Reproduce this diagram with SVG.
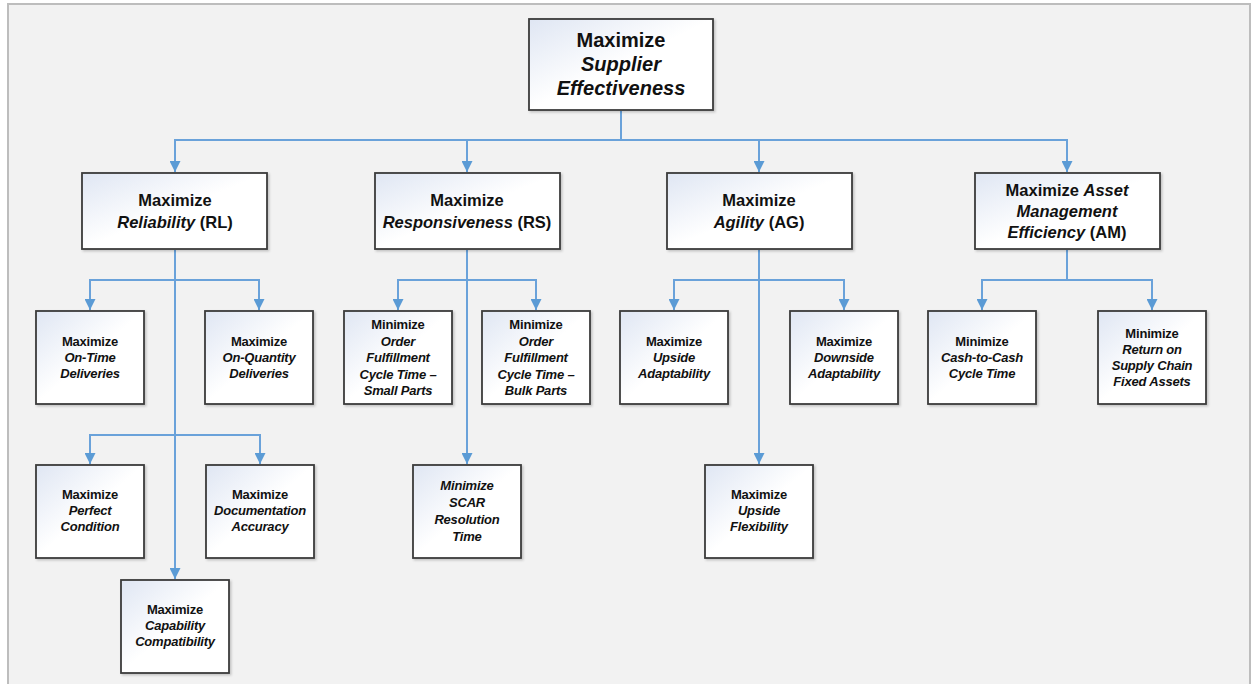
<svg xmlns="http://www.w3.org/2000/svg" width="1255" height="684" viewBox="0 0 1255 684">
<defs>
<linearGradient id="g" x1="0" y1="0" x2="1" y2="1">
<stop offset="0" stop-color="#dfe6f3"/>
<stop offset="0.5" stop-color="#ffffff"/>
<stop offset="1" stop-color="#ffffff"/>
</linearGradient>
<marker id="ah" viewBox="0 0 10 10" refX="10" refY="5" markerWidth="11" markerHeight="11" markerUnits="userSpaceOnUse" orient="auto">
<path d="M0,0 L10,5 L0,10 z" fill="#5b9bd5"/>
</marker>
<filter id="sh" x="-10%" y="-10%" width="130%" height="130%">
<feDropShadow dx="1.5" dy="1.5" stdDeviation="1" flood-color="#000" flood-opacity="0.2"/>
</filter>
</defs>
<style>
.box{fill:url(#g);stroke:#3c3c3c;stroke-width:1.8;filter:url(#sh)}
.c{fill:none;stroke:#6aa2da;stroke-width:2}
.a{marker-end:url(#ah)}
text{font-family:"Liberation Sans",Arial,sans-serif;font-weight:bold;fill:#111;text-anchor:middle}
.t0{font-size:20px}
.t1{font-size:16.5px}
.t2{font-size:13px;letter-spacing:-0.2px}
.i{font-style:italic}
.n{font-style:normal}
</style>
<rect x="0" y="0" width="1255" height="684" fill="#ffffff"/>
<rect x="8" y="4" width="1242" height="690" fill="#f2f2f2" stroke="#bdbdbd" stroke-width="2"/>

<g id="connectors">
<path class="c" d="M621,111 V140"/>
<path class="c a" d="M621,140 H175 V172"/>
<path class="c a" d="M621,140 H467 V172"/>
<path class="c a" d="M621,140 H759 V172"/>
<path class="c a" d="M621,140 H1067 V172"/>

<path class="c a" d="M175,250 V579"/>
<path class="c a" d="M175,280 H90 V310"/>
<path class="c a" d="M175,280 H259 V310"/>
<path class="c a" d="M175,435 H90 V464"/>
<path class="c a" d="M175,435 H260 V464"/>

<path class="c a" d="M467,250 V464"/>
<path class="c a" d="M467,280 H398 V310"/>
<path class="c a" d="M467,280 H536 V310"/>

<path class="c a" d="M759,250 V464"/>
<path class="c a" d="M759,280 H674 V310"/>
<path class="c a" d="M759,280 H844 V310"/>

<path class="c" d="M1067,250 V280"/>
<path class="c a" d="M1067,280 H982 V310"/>
<path class="c a" d="M1067,280 H1152 V310"/>
</g>

<g id="n-root">
<rect class="box" x="529" y="19" width="184" height="91"/>
<text class="t0" x="621" y="47">Maximize</text>
<text class="t0 i" x="621" y="71">Supplier</text>
<text class="t0 i" x="621" y="95">Effectiveness</text>
</g>

<g id="n-rl">
<rect class="box" x="82" y="173" width="185" height="76"/>
<text class="t1" x="175" y="206">Maximize</text>
<text class="t1" x="175" y="228"><tspan class="i">Reliability</tspan> (RL)</text>
</g>
<g id="n-rs">
<rect class="box" x="375" y="173" width="185" height="76"/>
<text class="t1" x="467" y="206">Maximize</text>
<text class="t1" x="467" y="228"><tspan class="i">Responsiveness</tspan> (RS)</text>
</g>
<g id="n-ag">
<rect class="box" x="667" y="173" width="185" height="76"/>
<text class="t1" x="759" y="206">Maximize</text>
<text class="t1" x="759" y="228"><tspan class="i">Agility</tspan> (AG)</text>
</g>
<g id="n-am">
<rect class="box" x="975" y="173" width="185" height="76"/>
<text class="t1" x="1067" y="196">Maximize <tspan class="i">Asset</tspan></text>
<text class="t1 i" x="1067" y="217">Management</text>
<text class="t1" x="1067" y="238"><tspan class="i">Efficiency</tspan> (AM)</text>
</g>

<g id="n-ontime">
<rect class="box" x="36" y="311" width="108" height="93"/>
<text class="t2" x="90" y="346">Maximize</text>
<text class="t2 i" x="90" y="362">On-Time</text>
<text class="t2 i" x="90" y="378">Deliveries</text>
</g>
<g id="n-onqty">
<rect class="box" x="205" y="311" width="108" height="93"/>
<text class="t2" x="259" y="346">Maximize</text>
<text class="t2 i" x="259" y="362">On-Quantity</text>
<text class="t2 i" x="259" y="378">Deliveries</text>
</g>
<g id="n-small">
<rect class="box" x="344" y="311" width="108" height="93"/>
<text class="t2" x="398" y="329">Minimize</text>
<text class="t2 i" x="398" y="345.5">Order</text>
<text class="t2 i" x="398" y="362">Fulfillment</text>
<text class="t2 i" x="398" y="378.5">Cycle Time –</text>
<text class="t2 i" x="398" y="395">Small Parts</text>
</g>
<g id="n-bulk">
<rect class="box" x="482" y="311" width="108" height="93"/>
<text class="t2" x="536" y="329">Minimize</text>
<text class="t2 i" x="536" y="345.5">Order</text>
<text class="t2 i" x="536" y="362">Fulfillment</text>
<text class="t2 i" x="536" y="378.5">Cycle Time –</text>
<text class="t2 i" x="536" y="395">Bulk Parts</text>
</g>
<g id="n-upadapt">
<rect class="box" x="620" y="311" width="108" height="93"/>
<text class="t2" x="674" y="346">Maximize</text>
<text class="t2 i" x="674" y="362">Upside</text>
<text class="t2 i" x="674" y="378">Adaptability</text>
</g>
<g id="n-downadapt">
<rect class="box" x="790" y="311" width="108" height="93"/>
<text class="t2" x="844" y="346">Maximize</text>
<text class="t2 i" x="844" y="362">Downside</text>
<text class="t2 i" x="844" y="378">Adaptability</text>
</g>
<g id="n-cash">
<rect class="box" x="928" y="311" width="108" height="93"/>
<text class="t2" x="982" y="346">Minimize</text>
<text class="t2 i" x="982" y="362">Cash-to-Cash</text>
<text class="t2 i" x="982" y="378">Cycle Time</text>
</g>
<g id="n-return">
<rect class="box" x="1098" y="311" width="108" height="93"/>
<text class="t2" x="1152" y="338">Minimize</text>
<text class="t2 i" x="1152" y="354">Return on</text>
<text class="t2 i" x="1152" y="370">Supply Chain</text>
<text class="t2 i" x="1152" y="386">Fixed Assets</text>
</g>

<g id="n-perfect">
<rect class="box" x="36" y="465" width="108" height="93"/>
<text class="t2" x="90" y="499">Maximize</text>
<text class="t2 i" x="90" y="515">Perfect</text>
<text class="t2 i" x="90" y="531">Condition</text>
</g>
<g id="n-doc">
<rect class="box" x="206" y="465" width="108" height="93"/>
<text class="t2" x="260" y="499">Maximize</text>
<text class="t2 i" x="260" y="515">Documentation</text>
<text class="t2 i" x="260" y="531">Accuracy</text>
</g>
<g id="n-scar">
<rect class="box" x="413" y="465" width="108" height="93"/>
<text class="t2 i" x="467" y="490">Minimize</text>
<text class="t2 i" x="467" y="507">SCAR</text>
<text class="t2 i" x="467" y="524">Resolution</text>
<text class="t2 i" x="467" y="541">Time</text>
</g>
<g id="n-upflex">
<rect class="box" x="705" y="465" width="108" height="93"/>
<text class="t2" x="759" y="499">Maximize</text>
<text class="t2 i" x="759" y="515">Upside</text>
<text class="t2 i" x="759" y="531">Flexibility</text>
</g>
<g id="n-capab">
<rect class="box" x="121" y="580" width="108" height="93"/>
<text class="t2" x="175" y="614">Maximize</text>
<text class="t2 i" x="175" y="630">Capability</text>
<text class="t2 i" x="175" y="646">Compatibility</text>
</g>
</svg>
